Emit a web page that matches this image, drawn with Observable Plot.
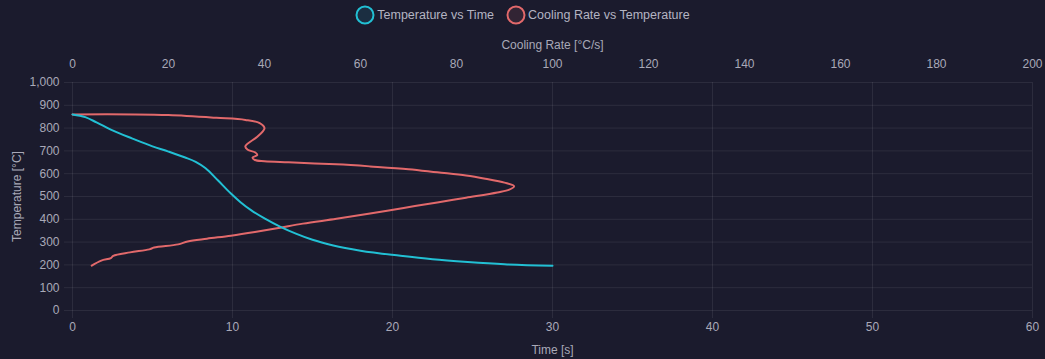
<!DOCTYPE html>
<html><head><meta charset="utf-8">
<script src="https://cdn.jsdelivr.net/npm/d3@7"></script>
<script src="https://cdn.jsdelivr.net/npm/@observablehq/plot@0.6"></script>
<style>
html,body{margin:0;padding:0;background:#1b1b2d;}
body{width:1045px;height:359px;overflow:hidden;font-family:"Liberation Sans",Arial,sans-serif;color:#a9a9b8;}
#legend{height:30px;display:flex;justify-content:center;align-items:center;font-size:12.5px;color:#b4b4c2;position:relative;left:0px;}
#legend .item{display:flex;align-items:center;margin:0 6px;}
#legend svg{margin-right:2px;}
svg.chart [aria-label$="tick"]{stroke:#ffffff;stroke-opacity:0.08;}
</style></head>
<body>
<div id="legend"></div>
<div id="chart"></div>
<script>
// Temperature vs Time (bottom axis, seconds)
const timeS   = [0, 0.8, 1.5, 2.5, 3.75, 5, 6, 7, 7.7, 8.3, 9.1, 9.9, 10.5, 11.2, 12, 13, 14, 15, 16.3, 18, 20.5, 22.5, 24.7, 27, 30];
const tempVsTime = [860, 848, 825, 790, 754, 720, 697, 672, 652, 625, 570, 513, 475, 438, 404, 367, 336, 310, 285, 262, 240, 225, 213, 203, 196];
// Cooling Rate vs Temperature (top axis, °C/s)
const coolingRate = [0, 13, 20, 30, 36, 39, 40, 39.6, 38.5, 36, 36.5, 38, 38.5, 37.5, 38, 40, 45, 55, 62, 70, 76, 82, 86, 90, 92, 91, 88.5, 82, 76, 69, 62, 55, 48, 43, 38, 33, 28, 24, 22, 17, 16, 12, 8.5, 8, 6, 4];
const tempVsRate  = [860, 860, 857, 845, 836, 822, 800, 785, 762, 720, 705, 694, 682, 670, 660, 655, 650, 641, 632, 620, 606, 592, 578, 561, 545, 530, 518, 495, 474, 450, 425, 402, 381, 362, 344, 328, 315, 303, 290, 276, 268, 255, 240, 230, 219, 197];
const yTicks = [0, 100, 200, 300, 400, 500, 600, 700, 800, 900, 1000];
const timeTicks = [0, 10, 20, 30, 40, 50, 60];
const rateTicks = [0, 20, 40, 60, 80, 100, 120, 140, 160, 180, 200];
const seriesNames = ["Temperature vs Time", "Cooling Rate vs Temperature"];
const seriesColors = ["#22c0d4", "#e2696b"];

const rateMax = 200, timeMax = 60, k = timeMax / rateMax;

// legend
const legend = document.getElementById("legend");
seriesNames.forEach((n, i) => {
  const it = document.createElement("div");
  it.className = "item";
  it.innerHTML = `<svg width="20" height="20"><circle cx="10" cy="10" r="8.5" fill="${seriesColors[i]}" fill-opacity="0.12" stroke="${seriesColors[i]}" stroke-width="2"/></svg><span>${n}</span>`;
  legend.appendChild(it);
});

const tRows = timeS.map((t, i) => ({t, T: tempVsTime[i]}));
const rRows = coolingRate.map((c, i) => ({c, T: tempVsRate[i]}));

const chart = Plot.plot({
  width: 1045, height: 329,
  marginLeft: 72, marginRight: 13, marginTop: 52, marginBottom: 49,
  className: "chart",
  style: {background: "transparent", color: "#a9a9b8", fontSize: "12px", fontFamily: "'Liberation Sans', Arial, sans-serif", overflow: "visible"},
  x: {domain: [0, timeMax]},
  y: {domain: [0, 1000]},
  marks: [
    Plot.gridY(yTicks, {stroke: "#ffffff", strokeOpacity: 0.08}),
    Plot.gridX(timeTicks, {stroke: "#ffffff", strokeOpacity: 0.08}),
    Plot.axisY(yTicks, {tickSize: 8, tickPadding: 5, label: "Temperature [°C]", labelAnchor: "center", labelArrow: "none", labelOffset: 60}),
    Plot.axisX(timeTicks, {anchor: "bottom", tickSize: 8, tickPadding: 4, label: "Time [s]", labelAnchor: "center", labelArrow: "none", labelOffset: 43}),
    Plot.axisX(rateTicks.map(v => v * k), {anchor: "top", tickSize: 0, tickPadding: 15, tickFormat: d => String(Math.round(d / k)), label: "Cooling Rate [°C/s]", labelAnchor: "center", labelArrow: "none", labelOffset: 42}),
    Plot.line(rRows, {x: d => d.c * k, y: "T", stroke: seriesColors[1], strokeWidth: 2, curve: "catmull-rom"}),
    Plot.line(tRows, {x: "t", y: "T", stroke: seriesColors[0], strokeWidth: 2, curve: "monotone-x"})
  ]
});
document.getElementById("chart").appendChild(chart);
</script>
</body></html>
